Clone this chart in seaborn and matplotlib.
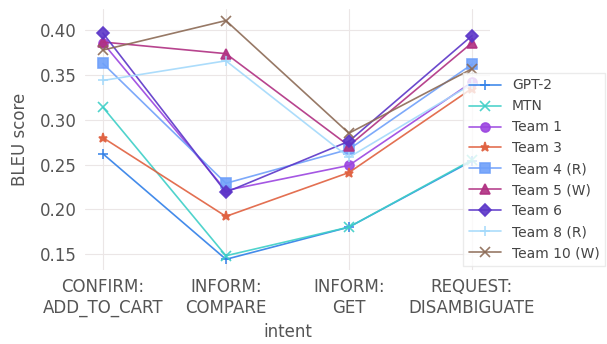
import pandas as pd
import matplotlib.pyplot as plt
import seaborn as sns

# values
intents = ['CONFIRM:\nADD_TO_CART', 'INFORM:\nCOMPARE', 'INFORM:\nGET', 'REQUEST:\nDISAMBIGUATE']

gpt2 = [0.262, 0.144, 0.180, 0.254]
mtn = [0.314, 0.148, 0.180, 0.255]
team1 = [0.386, 0.221, 0.249, 0.342]
team3 = [0.280, 0.192, 0.241, 0.335]
team4 = [0.363, 0.229, 0.267, 0.362]
team5 = [0.387, 0.374, 0.271, 0.386]
team6 = [0.397, 0.219, 0.276, 0.394]
team8 = [0.344, 0.366, 0.258, 0.340]
team10 = [0.378, 0.411, 0.285, 0.357]

models = ['GPT-2', 'MTN', 'Team 1', 'Team 3', 'Team 4 (R)', 'Team 5 (W)',
          'Team 6', 'Team 8 (R)', 'Team 10 (W)']
scores = [gpt2, mtn, team1, team3, team4, team5, team6, team8, team10]

colors = ['#2f7fe8', '#3dcfc7', '#9b45e0', '#e0603f', '#6fa0fa',
          '#b03082', '#5b35c8', '#a3d9fb', '#8c6a55']
markers = ['+', 'x', 'o', '*', 's', '^', 'D', '+', 'x']

sns.set_style('whitegrid', {'grid.color': '#ebe6e6', 'axes.edgecolor': 'white'})
plt.rcParams['font.family'] = ['DejaVu Sans']

fig = plt.figure(figsize=(6.07, 3.44), dpi=100)
ax = fig.add_axes([0.14, 0.215, 0.667, 0.759])

# one call per series so filled and line-art markers can be mixed
for name, vals, c, m in zip(models, scores, colors, markers):
    d = pd.DataFrame({'intent': intents, 'BLEU score': vals})
    sns.lineplot(data=d, x='intent', y='BLEU score', color=c, marker=m,
                 markersize=6.5, markeredgewidth=1.2, markeredgecolor=c,
                 linewidth=1.2, alpha=0.9, label=name, ax=ax)

ax.set_xlim(-0.146, 3.146)
ax.set_ylim(0.132, 0.424)
ax.set_yticks([0.15, 0.20, 0.25, 0.30, 0.35, 0.40])
ax.set_yticklabels(['0.15', '0.20', '0.25', '0.30', '0.35', '0.40'])
for s in ax.spines.values():
    s.set_visible(False)
ax.tick_params(axis='both', length=0, labelsize=12, colors='#555555', pad=6)
ax.set_xlabel('intent', fontsize=12, color='#555555', labelpad=4)
ax.set_ylabel('BLEU score', fontsize=12, color='#555555', labelpad=8)

leg = ax.legend(loc='upper left', bbox_to_anchor=(0.763, 0.788),
                bbox_transform=fig.transFigure, fontsize=10,
                frameon=True, framealpha=0.8, edgecolor='#e6e6e6',
                fancybox=False, borderaxespad=0, handlelength=2.3)
for t in leg.get_texts():
    t.set_color('#444444')

fig.savefig('out.png', dpi=100)
